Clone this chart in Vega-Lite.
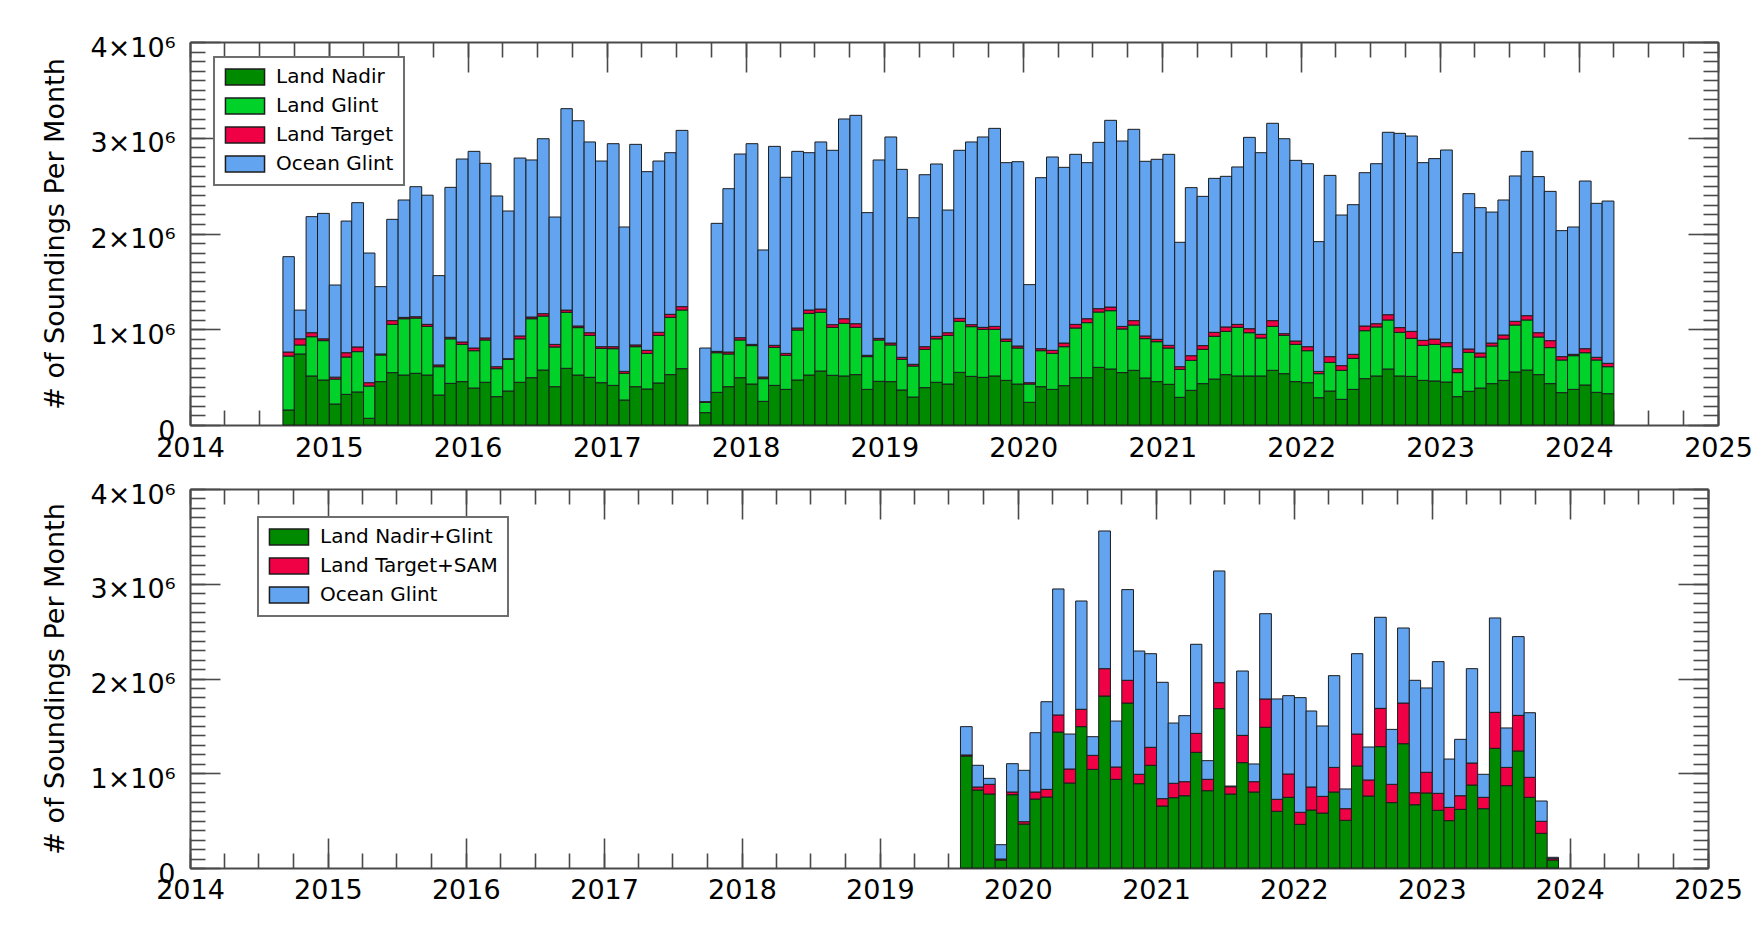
{
  "$schema": "https://vega.github.io/schema/vega-lite/v6.json",
  "background": "white",
  "autosize": {"type": "pad"},
  "padding": {"left": 41, "top": 34, "right": 0, "bottom": 0},
  "spacing": 64,
  "bounds": "flush",
  "datasets": {
    "oco2": [
      {"month": "2014-09", "nadir": 157000, "glint": 563000, "target": 42000, "ocean": 996000},
      {"month": "2014-10", "nadir": 742000, "glint": 94000, "target": 64000, "ocean": 300000},
      {"month": "2014-11", "nadir": 512000, "glint": 410000, "target": 42000, "ocean": 1212000},
      {"month": "2014-12", "nadir": 470000, "glint": 411000, "target": 19000, "ocean": 1310000},
      {"month": "2015-01", "nadir": 219000, "glint": 261000, "target": 20000, "ocean": 962000},
      {"month": "2015-02", "nadir": 320000, "glint": 390000, "target": 45000, "ocean": 1375000},
      {"month": "2015-03", "nadir": 345000, "glint": 421000, "target": 49000, "ocean": 1507000},
      {"month": "2015-04", "nadir": 70000, "glint": 337000, "target": 35000, "ocean": 1354000},
      {"month": "2015-05", "nadir": 453000, "glint": 278000, "target": 11000, "ocean": 703000},
      {"month": "2015-06", "nadir": 547000, "glint": 504000, "target": 39000, "ocean": 1058000},
      {"month": "2015-07", "nadir": 522000, "glint": 588000, "target": 14000, "ocean": 1226000},
      {"month": "2015-08", "nadir": 540000, "glint": 577000, "target": 14000, "ocean": 1358000},
      {"month": "2015-09", "nadir": 522000, "glint": 508000, "target": 21000, "ocean": 1349000},
      {"month": "2015-10", "nadir": 313000, "glint": 296000, "target": 18000, "ocean": 933000},
      {"month": "2015-11", "nadir": 435000, "glint": 465000, "target": 16000, "ocean": 1566000},
      {"month": "2015-12", "nadir": 453000, "glint": 389000, "target": 25000, "ocean": 1911000},
      {"month": "2016-01", "nadir": 386000, "glint": 390000, "target": 28000, "ocean": 2054000},
      {"month": "2016-02", "nadir": 446000, "glint": 442000, "target": 21000, "ocean": 1824000},
      {"month": "2016-03", "nadir": 296000, "glint": 292000, "target": 21000, "ocean": 1783000},
      {"month": "2016-04", "nadir": 355000, "glint": 331000, "target": 7000, "ocean": 1542000},
      {"month": "2016-05", "nadir": 446000, "glint": 454000, "target": 30000, "ocean": 1858000},
      {"month": "2016-06", "nadir": 494000, "glint": 616000, "target": 18000, "ocean": 1640000},
      {"month": "2016-07", "nadir": 574000, "glint": 564000, "target": 25000, "ocean": 1827000},
      {"month": "2016-08", "nadir": 400000, "glint": 415000, "target": 27000, "ocean": 1330000},
      {"month": "2016-09", "nadir": 592000, "glint": 585000, "target": 23000, "ocean": 2104000},
      {"month": "2016-10", "nadir": 522000, "glint": 495000, "target": 17000, "ocean": 2144000},
      {"month": "2016-11", "nadir": 498000, "glint": 438000, "target": 28000, "ocean": 1992000},
      {"month": "2016-12", "nadir": 442000, "glint": 358000, "target": 18000, "ocean": 1939000},
      {"month": "2017-01", "nadir": 414000, "glint": 383000, "target": 21000, "ocean": 2120000},
      {"month": "2017-02", "nadir": 261000, "glint": 279000, "target": 20000, "ocean": 1508000},
      {"month": "2017-03", "nadir": 400000, "glint": 418000, "target": 18000, "ocean": 2095000},
      {"month": "2017-04", "nadir": 376000, "glint": 372000, "target": 32000, "ocean": 1866000},
      {"month": "2017-05", "nadir": 439000, "glint": 497000, "target": 32000, "ocean": 1789000},
      {"month": "2017-06", "nadir": 526000, "glint": 598000, "target": 32000, "ocean": 1688000},
      {"month": "2017-07", "nadir": 588000, "glint": 613000, "target": 35000, "ocean": 1841000},
      {"month": "2017-09", "nadir": 129000, "glint": 108000, "target": 7000, "ocean": 560000},
      {"month": "2017-10", "nadir": 341000, "glint": 414000, "target": 14000, "ocean": 1337000},
      {"month": "2017-11", "nadir": 400000, "glint": 342000, "target": 20000, "ocean": 1706000},
      {"month": "2017-12", "nadir": 494000, "glint": 394000, "target": 24000, "ocean": 1918000},
      {"month": "2018-01", "nadir": 428000, "glint": 401000, "target": 13000, "ocean": 2096000},
      {"month": "2018-02", "nadir": 247000, "glint": 237000, "target": 17000, "ocean": 1327000},
      {"month": "2018-03", "nadir": 414000, "glint": 397000, "target": 21000, "ocean": 2078000},
      {"month": "2018-04", "nadir": 372000, "glint": 356000, "target": 20000, "ocean": 1839000},
      {"month": "2018-05", "nadir": 470000, "glint": 522000, "target": 21000, "ocean": 1845000},
      {"month": "2018-06", "nadir": 522000, "glint": 644000, "target": 35000, "ocean": 1643000},
      {"month": "2018-07", "nadir": 564000, "glint": 613000, "target": 34000, "ocean": 1745000},
      {"month": "2018-08", "nadir": 519000, "glint": 501000, "target": 28000, "ocean": 1821000},
      {"month": "2018-09", "nadir": 512000, "glint": 550000, "target": 48000, "ocean": 2086000},
      {"month": "2018-10", "nadir": 526000, "glint": 494000, "target": 38000, "ocean": 2176000},
      {"month": "2018-11", "nadir": 372000, "glint": 342000, "target": 14000, "ocean": 1490000},
      {"month": "2018-12", "nadir": 456000, "glint": 432000, "target": 17000, "ocean": 1863000},
      {"month": "2019-01", "nadir": 453000, "glint": 383000, "target": 20000, "ocean": 2152000},
      {"month": "2019-02", "nadir": 366000, "glint": 320000, "target": 21000, "ocean": 1963000},
      {"month": "2019-03", "nadir": 292000, "glint": 324000, "target": 18000, "ocean": 1531000},
      {"month": "2019-04", "nadir": 390000, "glint": 400000, "target": 28000, "ocean": 1796000},
      {"month": "2019-05", "nadir": 446000, "glint": 454000, "target": 26000, "ocean": 1800000},
      {"month": "2019-06", "nadir": 428000, "glint": 508000, "target": 28000, "ocean": 1281000},
      {"month": "2019-07", "nadir": 550000, "glint": 533000, "target": 31000, "ocean": 1755000},
      {"month": "2019-08", "nadir": 508000, "glint": 519000, "target": 21000, "ocean": 1908000},
      {"month": "2019-09", "nadir": 498000, "glint": 501000, "target": 21000, "ocean": 1988000},
      {"month": "2019-10", "nadir": 512000, "glint": 487000, "target": 31000, "ocean": 2068000},
      {"month": "2019-11", "nadir": 466000, "glint": 408000, "target": 24000, "ocean": 1842000},
      {"month": "2019-12", "nadir": 428000, "glint": 376000, "target": 21000, "ocean": 1925000},
      {"month": "2020-01", "nadir": 237000, "glint": 191000, "target": 14000, "ocean": 1024000},
      {"month": "2020-02", "nadir": 400000, "glint": 376000, "target": 21000, "ocean": 1786000},
      {"month": "2020-03", "nadir": 372000, "glint": 376000, "target": 32000, "ocean": 2019000},
      {"month": "2020-04", "nadir": 411000, "glint": 407000, "target": 38000, "ocean": 1835000},
      {"month": "2020-05", "nadir": 494000, "glint": 519000, "target": 38000, "ocean": 1776000},
      {"month": "2020-06", "nadir": 494000, "glint": 575000, "target": 41000, "ocean": 1630000},
      {"month": "2020-07", "nadir": 602000, "glint": 578000, "target": 35000, "ocean": 1737000},
      {"month": "2020-08", "nadir": 585000, "glint": 609000, "target": 38000, "ocean": 1950000},
      {"month": "2020-09", "nadir": 547000, "glint": 456000, "target": 27000, "ocean": 1936000},
      {"month": "2020-10", "nadir": 571000, "glint": 473000, "target": 46000, "ocean": 1998000},
      {"month": "2020-11", "nadir": 491000, "glint": 411000, "target": 28000, "ocean": 1824000},
      {"month": "2020-12", "nadir": 453000, "glint": 417000, "target": 25000, "ocean": 1880000},
      {"month": "2021-01", "nadir": 425000, "glint": 379000, "target": 28000, "ocean": 1995000},
      {"month": "2021-02", "nadir": 289000, "glint": 292000, "target": 28000, "ocean": 1299000},
      {"month": "2021-03", "nadir": 362000, "glint": 313000, "target": 49000, "ocean": 1755000},
      {"month": "2021-04", "nadir": 432000, "glint": 358000, "target": 39000, "ocean": 1559000},
      {"month": "2021-05", "nadir": 480000, "glint": 446000, "target": 42000, "ocean": 1608000},
      {"month": "2021-06", "nadir": 526000, "glint": 452000, "target": 46000, "ocean": 1573000},
      {"month": "2021-07", "nadir": 512000, "glint": 508000, "target": 31000, "ocean": 1644000},
      {"month": "2021-08", "nadir": 512000, "glint": 452000, "target": 42000, "ocean": 1998000},
      {"month": "2021-09", "nadir": 512000, "glint": 397000, "target": 38000, "ocean": 1897000},
      {"month": "2021-10", "nadir": 571000, "glint": 459000, "target": 60000, "ocean": 2061000},
      {"month": "2021-11", "nadir": 536000, "glint": 400000, "target": 18000, "ocean": 2036000},
      {"month": "2021-12", "nadir": 453000, "glint": 389000, "target": 35000, "ocean": 1887000},
      {"month": "2022-01", "nadir": 442000, "glint": 334000, "target": 42000, "ocean": 1911000},
      {"month": "2022-02", "nadir": 285000, "glint": 251000, "target": 24000, "ocean": 1355000},
      {"month": "2022-03", "nadir": 355000, "glint": 299000, "target": 60000, "ocean": 1893000},
      {"month": "2022-04", "nadir": 268000, "glint": 303000, "target": 49000, "ocean": 1573000},
      {"month": "2022-05", "nadir": 372000, "glint": 324000, "target": 42000, "ocean": 1563000},
      {"month": "2022-06", "nadir": 484000, "glint": 501000, "target": 49000, "ocean": 1601000},
      {"month": "2022-07", "nadir": 512000, "glint": 512000, "target": 34000, "ocean": 1671000},
      {"month": "2022-08", "nadir": 585000, "glint": 512000, "target": 55000, "ocean": 1905000},
      {"month": "2022-09", "nadir": 512000, "glint": 456000, "target": 49000, "ocean": 2029000},
      {"month": "2022-10", "nadir": 508000, "glint": 397000, "target": 73000, "ocean": 2040000},
      {"month": "2022-11", "nadir": 466000, "glint": 366000, "target": 52000, "ocean": 1856000},
      {"month": "2022-12", "nadir": 460000, "glint": 382000, "target": 56000, "ocean": 1884000},
      {"month": "2023-01", "nadir": 449000, "glint": 369000, "target": 42000, "ocean": 2012000},
      {"month": "2023-02", "nadir": 296000, "glint": 251000, "target": 41000, "ocean": 1212000},
      {"month": "2023-03", "nadir": 352000, "glint": 407000, "target": 35000, "ocean": 1622000},
      {"month": "2023-04", "nadir": 386000, "glint": 324000, "target": 42000, "ocean": 1518000},
      {"month": "2023-05", "nadir": 432000, "glint": 393000, "target": 31000, "ocean": 1368000},
      {"month": "2023-06", "nadir": 466000, "glint": 432000, "target": 42000, "ocean": 1410000},
      {"month": "2023-07", "nadir": 554000, "glint": 490000, "target": 39000, "ocean": 1518000},
      {"month": "2023-08", "nadir": 574000, "glint": 523000, "target": 45000, "ocean": 1716000},
      {"month": "2023-09", "nadir": 526000, "glint": 393000, "target": 45000, "ocean": 1630000},
      {"month": "2023-10", "nadir": 432000, "glint": 376000, "target": 73000, "ocean": 1559000},
      {"month": "2023-11", "nadir": 338000, "glint": 341000, "target": 35000, "ocean": 1316000},
      {"month": "2023-12", "nadir": 372000, "glint": 352000, "target": 14000, "ocean": 1330000},
      {"month": "2024-01", "nadir": 418000, "glint": 337000, "target": 42000, "ocean": 1751000},
      {"month": "2024-02", "nadir": 341000, "glint": 338000, "target": 28000, "ocean": 1608000},
      {"month": "2024-03", "nadir": 327000, "glint": 282000, "target": 35000, "ocean": 1695000}
    ],
    "oco3": [
      {"month": "2019-08", "nadirGlint": 1182000, "targetSam": 11000, "ocean": 299000},
      {"month": "2019-09", "nadirGlint": 823000, "targetSam": 32000, "ocean": 229000},
      {"month": "2019-10", "nadirGlint": 781000, "targetSam": 102000, "ocean": 63000},
      {"month": "2019-11", "nadirGlint": 84000, "targetSam": 11000, "ocean": 151000},
      {"month": "2019-12", "nadirGlint": 774000, "targetSam": 28000, "ocean": 299000},
      {"month": "2020-01", "nadirGlint": 464000, "targetSam": 25000, "ocean": 542000},
      {"month": "2020-02", "nadirGlint": 728000, "targetSam": 74000, "ocean": 626000},
      {"month": "2020-03", "nadirGlint": 749000, "targetSam": 81000, "ocean": 925000},
      {"month": "2020-04", "nadirGlint": 1435000, "targetSam": 180000, "ocean": 1330000},
      {"month": "2020-05", "nadirGlint": 897000, "targetSam": 148000, "ocean": 369000},
      {"month": "2020-06", "nadirGlint": 1492000, "targetSam": 183000, "ocean": 1143000},
      {"month": "2020-07", "nadirGlint": 1041000, "targetSam": 148000, "ocean": 197000},
      {"month": "2020-08", "nadirGlint": 1815000, "targetSam": 289000, "ocean": 1453000},
      {"month": "2020-09", "nadirGlint": 936000, "targetSam": 130000, "ocean": 485000},
      {"month": "2020-10", "nadirGlint": 1741000, "targetSam": 240000, "ocean": 957000},
      {"month": "2020-11", "nadirGlint": 890000, "targetSam": 99000, "ocean": 1301000},
      {"month": "2020-12", "nadirGlint": 1084000, "targetSam": 190000, "ocean": 988000},
      {"month": "2021-01", "nadirGlint": 654000, "targetSam": 78000, "ocean": 1228000},
      {"month": "2021-02", "nadirGlint": 742000, "targetSam": 152000, "ocean": 636000},
      {"month": "2021-03", "nadirGlint": 763000, "targetSam": 148000, "ocean": 697000},
      {"month": "2021-04", "nadirGlint": 1221000, "targetSam": 200000, "ocean": 940000},
      {"month": "2021-05", "nadirGlint": 816000, "targetSam": 120000, "ocean": 197000},
      {"month": "2021-06", "nadirGlint": 1682000, "targetSam": 274000, "ocean": 1179000},
      {"month": "2021-07", "nadirGlint": 781000, "targetSam": 77000, "ocean": 7000},
      {"month": "2021-08", "nadirGlint": 1112000, "targetSam": 288000, "ocean": 679000},
      {"month": "2021-09", "nadirGlint": 802000, "targetSam": 109000, "ocean": 187000},
      {"month": "2021-10", "nadirGlint": 1485000, "targetSam": 299000, "ocean": 900000},
      {"month": "2021-11", "nadirGlint": 598000, "targetSam": 127000, "ocean": 1059000},
      {"month": "2021-12", "nadirGlint": 746000, "targetSam": 246000, "ocean": 827000},
      {"month": "2022-01", "nadirGlint": 461000, "targetSam": 127000, "ocean": 1210000},
      {"month": "2022-02", "nadirGlint": 612000, "targetSam": 243000, "ocean": 802000},
      {"month": "2022-03", "nadirGlint": 580000, "targetSam": 176000, "ocean": 743000},
      {"month": "2022-04", "nadirGlint": 802000, "targetSam": 260000, "ocean": 968000},
      {"month": "2022-05", "nadirGlint": 503000, "targetSam": 123000, "ocean": 208000},
      {"month": "2022-06", "nadirGlint": 1077000, "targetSam": 337000, "ocean": 848000},
      {"month": "2022-07", "nadirGlint": 760000, "targetSam": 169000, "ocean": 348000},
      {"month": "2022-08", "nadirGlint": 1281000, "targetSam": 404000, "ocean": 961000},
      {"month": "2022-09", "nadirGlint": 690000, "targetSam": 193000, "ocean": 580000},
      {"month": "2022-10", "nadirGlint": 1312000, "targetSam": 429000, "ocean": 792000},
      {"month": "2022-11", "nadirGlint": 668000, "targetSam": 127000, "ocean": 1186000},
      {"month": "2022-12", "nadirGlint": 792000, "targetSam": 218000, "ocean": 890000},
      {"month": "2023-01", "nadirGlint": 609000, "targetSam": 179000, "ocean": 1390000},
      {"month": "2023-02", "nadirGlint": 500000, "targetSam": 140000, "ocean": 510000},
      {"month": "2023-03", "nadirGlint": 619000, "targetSam": 144000, "ocean": 595000},
      {"month": "2023-04", "nadirGlint": 876000, "targetSam": 232000, "ocean": 996000},
      {"month": "2023-05", "nadirGlint": 626000, "targetSam": 120000, "ocean": 243000},
      {"month": "2023-06", "nadirGlint": 1263000, "targetSam": 380000, "ocean": 996000},
      {"month": "2023-07", "nadirGlint": 869000, "targetSam": 193000, "ocean": 416000},
      {"month": "2023-08", "nadirGlint": 1235000, "targetSam": 376000, "ocean": 831000},
      {"month": "2023-09", "nadirGlint": 746000, "targetSam": 211000, "ocean": 682000},
      {"month": "2023-10", "nadirGlint": 366000, "targetSam": 127000, "ocean": 214000},
      {"month": "2023-11", "nadirGlint": 84000, "targetSam": 15000, "ocean": 14000}
    ]
  },
  "vconcat": [
    {
      "width": 1528,
      "height": 383,
      "data": {"name": "oco2"},
      "transform": [
        {"fold": ["nadir", "glint", "target", "ocean"], "as": ["type", "count"]},
        {"calculate": "indexof(['nadir', 'glint', 'target', 'ocean'], datum.type)", "as": "stackRank"}
      ],
      "layer": [
        {
          "mark": {"type": "bar", "timeUnitBandSize": 0.8, "binSpacing": 0, "stroke": "#1c1c1c", "strokeWidth": 1},
          "encoding": {
            "x": {"field": "month", "type": "temporal", "timeUnit": "utcyearmonth",
                  "scale": {"type": "utc", "nice": false, "domain": [{"year": 2014, "month": 1, "date": 1, "utc": true}, {"year": 2025, "month": 1, "date": 1, "utc": true}]},
                  "axis": {"orient": "bottom", "title": null, "ticks": false, "tickCount": {"interval": "year", "step": 1}, "labelExpr": "utcFormat(datum.value, '%Y')", "labelPadding": 10}},
            "y": {"field": "count", "type": "quantitative", "stack": "zero",
                  "scale": {"domain": [0, 4000000], "nice": false},
                  "axis": {"orient": "left", "title": "# of Soundings Per Month", "ticks": false, "tickCount": 4, "labelExpr": "datum.value === 0 ? '0' : format(datum.value / 1000000, 'd') + '×10\u2076'", "labelPadding": 15, "labelBaseline": "alphabetic", "labelOffset": 14, "titlePadding": 21}},
            "fill": {"field": "type", "type": "nominal",
                     "scale": {"domain": ["nadir", "glint", "target", "ocean"], "range": ["#008a00", "#00d22a", "#f00045", "#63a4f0"]},
                     "legend": {"orient": "none", "legendX": 24, "legendY": 15, "title": null,
                                "labelExpr": "datum.value == 'nadir' ? 'Land Nadir' : datum.value == 'glint' ? 'Land Glint' : datum.value == 'target' ? 'Land Target' : 'Ocean Glint'"}},
            "order": {"field": "stackRank", "type": "quantitative", "sort": "ascending"}
          }
        },
        {
          "mark": {"type": "point", "opacity": 0},
          "encoding": {
            "x": {"field": "month", "type": "temporal", "timeUnit": "utcyearmonth",
                  "scale": {"type": "utc", "nice": false, "domain": [{"year": 2014, "month": 1, "date": 1, "utc": true}, {"year": 2025, "month": 1, "date": 1, "utc": true}]},
                  "axis": {"orient": "bottom", "title": null, "labels": false, "domain": false, "tickSize": -15, "tickCount": {"interval": "month", "step": 3}}},
            "y": {"field": "count", "type": "quantitative", "scale": {"domain": [0, 4000000], "nice": false},
                  "axis": {"orient": "left", "title": null, "labels": false, "domain": false, "tickSize": -15, "tickCount": 40}}
          }
        },
        {
          "mark": {"type": "point", "opacity": 0},
          "encoding": {
            "x": {"field": "month", "type": "temporal", "timeUnit": "utcyearmonth",
                  "scale": {"type": "utc", "nice": false, "domain": [{"year": 2014, "month": 1, "date": 1, "utc": true}, {"year": 2025, "month": 1, "date": 1, "utc": true}]},
                  "axis": {"orient": "bottom", "title": null, "labels": false, "domain": false, "tickSize": -30, "tickCount": {"interval": "year", "step": 1}}},
            "y": {"field": "count", "type": "quantitative", "scale": {"domain": [0, 4000000], "nice": false},
                  "axis": {"orient": "left", "title": null, "labels": false, "domain": false, "tickSize": -30, "tickCount": 4}}
          }
        },
        {
          "mark": {"type": "point", "opacity": 0},
          "encoding": {
            "x": {"field": "month", "type": "temporal", "timeUnit": "utcyearmonth",
                  "scale": {"type": "utc", "nice": false, "domain": [{"year": 2014, "month": 1, "date": 1, "utc": true}, {"year": 2025, "month": 1, "date": 1, "utc": true}]},
                  "axis": {"orient": "top", "title": null, "labels": false, "domain": true, "tickSize": -30, "tickCount": {"interval": "year", "step": 1}}},
            "y": {"field": "count", "type": "quantitative", "scale": {"domain": [0, 4000000], "nice": false},
                  "axis": {"orient": "right", "title": null, "labels": false, "domain": true, "tickSize": -30, "tickCount": 4}}
          }
        },
        {
          "mark": {"type": "point", "opacity": 0},
          "encoding": {
            "x": {"field": "month", "type": "temporal", "timeUnit": "utcyearmonth",
                  "scale": {"type": "utc", "nice": false, "domain": [{"year": 2014, "month": 1, "date": 1, "utc": true}, {"year": 2025, "month": 1, "date": 1, "utc": true}]},
                  "axis": {"orient": "top", "title": null, "labels": false, "domain": false, "tickSize": -15, "tickCount": {"interval": "month", "step": 3}}},
            "y": {"field": "count", "type": "quantitative", "scale": {"domain": [0, 4000000], "nice": false},
                  "axis": {"orient": "right", "title": null, "labels": false, "domain": false, "tickSize": -15, "tickCount": 40}}
          }
        }
      ],
      "resolve": {"axis": {"x": "independent", "y": "independent"}}
    },
    {
      "width": 1518,
      "height": 379,
      "data": {"name": "oco3"},
      "transform": [
        {"fold": ["nadirGlint", "targetSam", "ocean"], "as": ["type", "count"]},
        {"calculate": "indexof(['nadirGlint', 'targetSam', 'ocean'], datum.type)", "as": "stackRank"}
      ],
      "layer": [
        {
          "mark": {"type": "bar", "timeUnitBandSize": 0.8, "binSpacing": 0, "stroke": "#1c1c1c", "strokeWidth": 1},
          "encoding": {
            "x": {"field": "month", "type": "temporal", "timeUnit": "utcyearmonth",
                  "scale": {"type": "utc", "nice": false, "domain": [{"year": 2014, "month": 1, "date": 1, "utc": true}, {"year": 2025, "month": 1, "date": 1, "utc": true}]},
                  "axis": {"orient": "bottom", "title": null, "ticks": false, "tickCount": {"interval": "year", "step": 1}, "labelExpr": "utcFormat(datum.value, '%Y')", "labelPadding": 9}},
            "y": {"field": "count", "type": "quantitative", "stack": "zero",
                  "scale": {"domain": [0, 4000000], "nice": false},
                  "axis": {"orient": "left", "title": "# of Soundings Per Month", "ticks": false, "tickCount": 4, "labelExpr": "datum.value === 0 ? '0' : format(datum.value / 1000000, 'd') + '×10\u2076'", "labelPadding": 15, "labelBaseline": "alphabetic", "labelOffset": 14, "titlePadding": 21}},
            "fill": {"field": "type", "type": "nominal",
                     "scale": {"domain": ["nadirGlint", "targetSam", "ocean"], "range": ["#008a00", "#f00045", "#63a4f0"]},
                     "legend": {"orient": "none", "legendX": 68, "legendY": 28, "title": null,
                                "labelExpr": "datum.value == 'nadirGlint' ? 'Land Nadir+Glint' : datum.value == 'targetSam' ? 'Land Target+SAM' : 'Ocean Glint'"}},
            "order": {"field": "stackRank", "type": "quantitative", "sort": "ascending"}
          }
        },
        {
          "mark": {"type": "point", "opacity": 0},
          "encoding": {
            "x": {"field": "month", "type": "temporal", "timeUnit": "utcyearmonth",
                  "scale": {"type": "utc", "nice": false, "domain": [{"year": 2014, "month": 1, "date": 1, "utc": true}, {"year": 2025, "month": 1, "date": 1, "utc": true}]},
                  "axis": {"orient": "bottom", "title": null, "labels": false, "domain": false, "tickSize": -15, "tickCount": {"interval": "month", "step": 3}}},
            "y": {"field": "count", "type": "quantitative", "scale": {"domain": [0, 4000000], "nice": false},
                  "axis": {"orient": "left", "title": null, "labels": false, "domain": false, "tickSize": -15, "tickCount": 40}}
          }
        },
        {
          "mark": {"type": "point", "opacity": 0},
          "encoding": {
            "x": {"field": "month", "type": "temporal", "timeUnit": "utcyearmonth",
                  "scale": {"type": "utc", "nice": false, "domain": [{"year": 2014, "month": 1, "date": 1, "utc": true}, {"year": 2025, "month": 1, "date": 1, "utc": true}]},
                  "axis": {"orient": "bottom", "title": null, "labels": false, "domain": false, "tickSize": -30, "tickCount": {"interval": "year", "step": 1}}},
            "y": {"field": "count", "type": "quantitative", "scale": {"domain": [0, 4000000], "nice": false},
                  "axis": {"orient": "left", "title": null, "labels": false, "domain": false, "tickSize": -30, "tickCount": 4}}
          }
        },
        {
          "mark": {"type": "point", "opacity": 0},
          "encoding": {
            "x": {"field": "month", "type": "temporal", "timeUnit": "utcyearmonth",
                  "scale": {"type": "utc", "nice": false, "domain": [{"year": 2014, "month": 1, "date": 1, "utc": true}, {"year": 2025, "month": 1, "date": 1, "utc": true}]},
                  "axis": {"orient": "top", "title": null, "labels": false, "domain": true, "tickSize": -30, "tickCount": {"interval": "year", "step": 1}}},
            "y": {"field": "count", "type": "quantitative", "scale": {"domain": [0, 4000000], "nice": false},
                  "axis": {"orient": "right", "title": null, "labels": false, "domain": true, "tickSize": -30, "tickCount": 4}}
          }
        },
        {
          "mark": {"type": "point", "opacity": 0},
          "encoding": {
            "x": {"field": "month", "type": "temporal", "timeUnit": "utcyearmonth",
                  "scale": {"type": "utc", "nice": false, "domain": [{"year": 2014, "month": 1, "date": 1, "utc": true}, {"year": 2025, "month": 1, "date": 1, "utc": true}]},
                  "axis": {"orient": "top", "title": null, "labels": false, "domain": false, "tickSize": -15, "tickCount": {"interval": "month", "step": 3}}},
            "y": {"field": "count", "type": "quantitative", "scale": {"domain": [0, 4000000], "nice": false},
                  "axis": {"orient": "right", "title": null, "labels": false, "domain": false, "tickSize": -15, "tickCount": 40}}
          }
        }
      ],
      "resolve": {"axis": {"x": "independent", "y": "independent"}}
    }
  ],
  "resolve": {
    "scale": {"x": "independent", "y": "independent", "fill": "independent"},
    "legend": {"fill": "independent"}
  },
  "config": {
    "view": {"stroke": null},
    "font": "DejaVu Sans",
    "axis": {
      "grid": false,
      "zindex": 1,
      "domainColor": "#4a4a4a",
      "domainWidth": 2,
      "tickColor": "#4a4a4a",
      "tickWidth": 1.6,
      "labelFont": "DejaVu Sans",
      "labelFontSize": 27,
      "labelColor": "#000000",
      "labelFlush": false,
      "labelOverlap": false,
      "titleFont": "DejaVu Sans",
      "titleFontSize": 27,
      "titleFontWeight": "normal",
      "titleColor": "#000000"
    },
    "legend": {
      "labelFont": "DejaVu Sans",
      "labelFontSize": 20,
      "labelColor": "#000000",
      "labelLimit": 400,
      "symbolType": "M-2.3,-0.94H2.3V0.94H-2.3Z",
      "symbolSize": 289,
      "symbolStrokeColor": "#1c1c1c",
      "symbolStrokeWidth": 1.5,
      "symbolOpacity": 1,
      "symbolOffset": 11,
      "labelOffset": 21,
      "rowPadding": 7,
      "padding": 10,
      "strokeColor": "#6e6e6e",
      "strokeWidth": 2,
      "fillColor": "#ffffff"
    }
  }
}
